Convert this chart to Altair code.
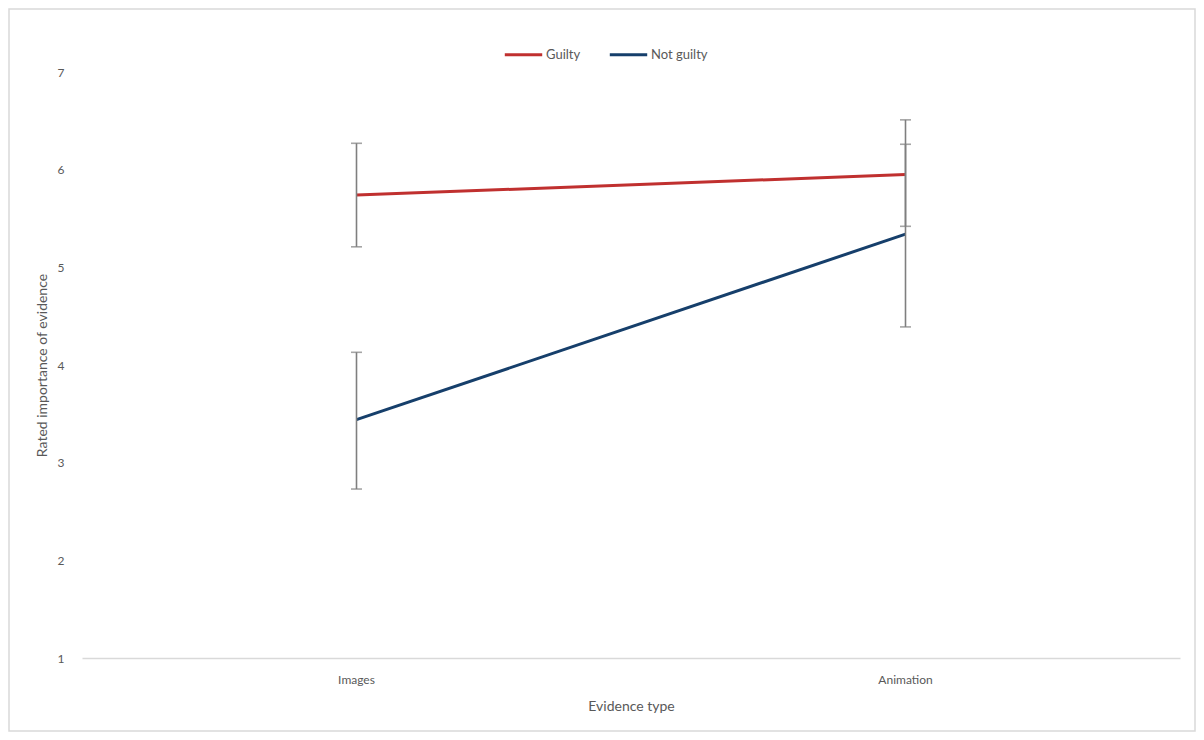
import altair as alt
import pandas as pd

categories = ["Images", "Animation"]
guilty_mean = [5.74, 5.95]
guilty_low = [5.21, 5.42]
guilty_high = [6.27, 6.51]
notguilty_mean = [3.44, 5.34]
notguilty_low = [2.73, 4.39]
notguilty_high = [4.13, 6.26]
series_names = ["Guilty", "Not guilty"]
series_colors = ["#c0302f", "#163f6b"]

rows = []
for i, c in enumerate(categories):
    rows.append({"type": c, "verdict": "Guilty", "mean": guilty_mean[i],
                 "low": guilty_low[i], "high": guilty_high[i]})
    rows.append({"type": c, "verdict": "Not guilty", "mean": notguilty_mean[i],
                 "low": notguilty_low[i], "high": notguilty_high[i]})
df = pd.DataFrame(rows)

FONT = "Lato"
GRAY = "#595959"

x_enc = alt.X("type:N", sort=categories,
              scale=alt.Scale(paddingInner=0, paddingOuter=0),
              axis=alt.Axis(title="Evidence type", labelAngle=0, ticks=False,
                            domainColor="#d9d9d9", domainWidth=1.5,
                            labelColor=GRAY, labelFontSize=12, labelFont=FONT,
                            labelPadding=16, titleColor=GRAY, titleFontSize=14,
                            titleFont=FONT, titleFontWeight="normal", titlePadding=14))
y_scale = alt.Scale(domain=[1, 7], nice=False, zero=False)
y_axis = alt.Axis(title="Rated importance of evidence", values=[1, 2, 3, 4, 5, 6, 7],
                  format="d", domain=False, ticks=False, grid=False, labelColor=GRAY,
                  labelFontSize=12, labelFont=FONT, labelPadding=18,
                  titleColor=GRAY, titleFontSize=14, titleFont=FONT,
                  titleFontWeight="normal", titlePadding=8)

base = alt.Chart(df)

lines = base.mark_line(strokeWidth=3).encode(
    x=x_enc,
    y=alt.Y("mean:Q", scale=y_scale, axis=y_axis),
    color=alt.Color("verdict:N", sort=series_names,
                    scale=alt.Scale(domain=series_names, range=series_colors),
                    legend=alt.Legend(title=None, orient="none", direction="horizontal",
                                      legendX=421, legendY=-38, symbolType="stroke",
                                      symbolSize=1400, symbolStrokeWidth=3,
                                      labelColor=GRAY, labelFontSize=13,
                                      labelFont=FONT, columnPadding=22,
                                      labelOffset=2)),
)

bars = base.mark_rule(color="#7f7f7f", strokeWidth=1.6).encode(
    x=alt.X("type:N", sort=categories),
    y=alt.Y("low:Q", scale=y_scale),
    y2="high:Q",
)
caps_low = base.mark_tick(color="#7f7f7f", size=11, thickness=1.6).encode(
    x=alt.X("type:N", sort=categories),
    y=alt.Y("low:Q", scale=y_scale),
)
caps_high = base.mark_tick(color="#7f7f7f", size=11, thickness=1.6).encode(
    x=alt.X("type:N", sort=categories),
    y=alt.Y("high:Q", scale=y_scale),
)

border = alt.Chart(pd.DataFrame({"d": [0]})).mark_rect(
    fill=None, stroke="#d9d9d9", strokeWidth=1.5
).encode(x=alt.value(-73), x2=alt.value(1113), y=alt.value(-63), y2=alt.value(659))

chart = alt.layer(border, lines, bars, caps_low, caps_high).properties(
    width=1098, height=586,
    autosize=alt.AutoSizeParams(type="none"),
    padding={"left": 74, "top": 64, "right": 16, "bottom": 75},
).configure(background="white").configure_view(strokeWidth=0)

chart.save("out.html", embed_options={"renderer": "svg", "actions": False})
